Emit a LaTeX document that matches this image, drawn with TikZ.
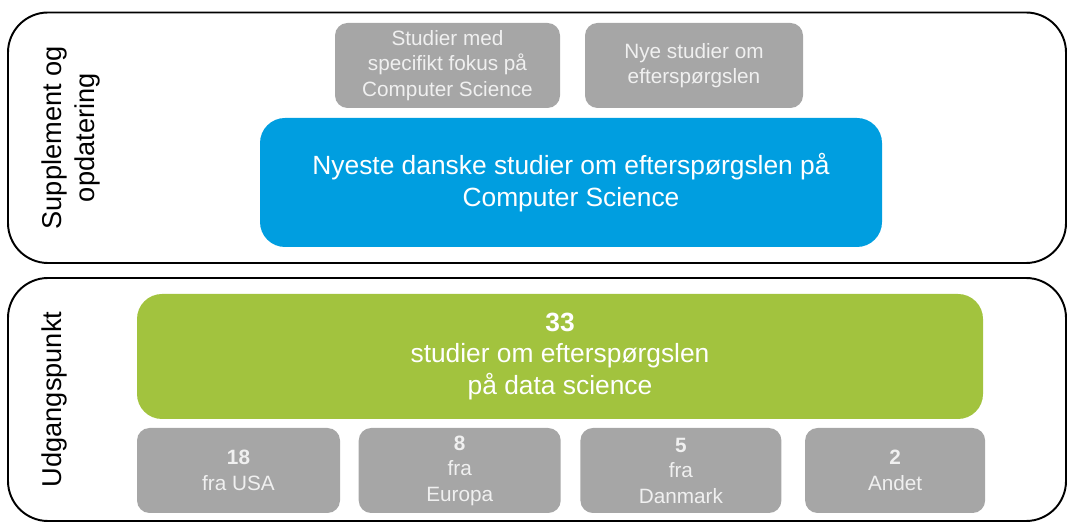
\documentclass[tikz,border=0pt]{standalone}
\usepackage{fontspec}
\setmainfont{Liberation Sans}
\usepackage{tikz}
\usepackage{xcolor}
\usetikzlibrary{positioning}
\definecolor{boxgrey}{RGB}{166,166,166}
\definecolor{boxblue}{RGB}{0,158,224}
\definecolor{boxgreen}{RGB}{162,195,62}

\begin{document}
\begin{tikzpicture}[frame/.style={rectangle, rounded corners=0.8cm, draw=black, line width=1.1pt, minimum width=21.16cm},
	sidelab/.style={rotate=90, align=center, inner sep=0, font=\fontsize{15.5}{19}\selectfont},
	gbox/.style={rectangle, rounded corners=0.25cm, fill=boxgrey, text=white!94!black, align=center, minimum height=1.7cm, inner sep=0, font=\fontsize{11.8}{14.5}\selectfont},
	mainbox/.style={rectangle, rounded corners=0.5cm, text=white, align=center, inner sep=0, font=\fontsize{15}{18}\selectfont}]

		\useasboundingbox (0,0) rectangle (21.36,-10.46);
		%frames
		\node[frame, minimum height=5.01cm] at (10.74,-2.755) (top) {};
		\node[frame, minimum height=4.86cm] at (10.74,-7.99) (base) {};
		\node[sidelab] at ([xshift=1.28cm]top.west) (toplab) {Supplement og\\opdatering};
		\node[sidelab] at ([xshift=0.94cm]base.west) (baselab) {Udgangspunkt};
		%supplement
		\node[gbox, minimum width=4.5cm] at (8.95,-1.31) (cs) {Studier med\\specifikt fokus på\\Computer Science};
		\node[gbox, minimum width=4.36cm] at (13.88,-1.31) (new) {Nye studier om\\efterspørgslen};
		\node[mainbox, fill=boxblue, minimum width=12.44cm, minimum height=2.58cm] at (11.42,-3.65) (dk) {Nyeste danske studier om efterspørgslen på\\Computer Science};
		%starting point
		\node[mainbox, fill=boxgreen, minimum width=16.92cm, minimum height=2.5cm] at (11.2,-7.13) (ds) {\textbf{33}\\studier om efterspørgslen\\på data science};
		\node[gbox, minimum width=4.06cm] at (4.77,-9.41) (usa) {\textbf{18}\\fra USA};
		\node[gbox, minimum width=4.04cm, right=0.36cm of usa] (eu) {\textbf{8}\\fra\\Europa};
		\node[gbox, minimum width=4.02cm, right=0.38cm of eu] (dk2) {\textbf{5}\\fra\\Danmark};
		\node[gbox, minimum width=3.6cm, right=0.46cm of dk2] (other) {\textbf{2}\\Andet};
	\end{tikzpicture}
\end{document}
